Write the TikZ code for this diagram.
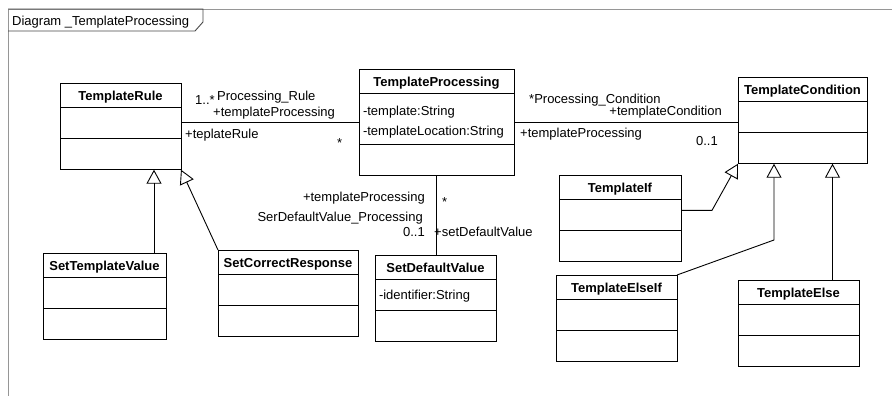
\documentclass[tikz,border=0pt]{standalone}
\usepackage{fontspec}
\setmainfont{Liberation Sans}
\usetikzlibrary{shapes.multipart, arrows.meta}

\definecolor{framegray}{RGB}{150,150,150}
\definecolor{tabgray}{RGB}{70,70,70}

\tikzset{
  umlclass/.style={draw, rectangle split, rectangle split parts=3, anchor=north west,
    text width=#1, inner xsep=4pt, inner ysep=0pt, outer sep=0pt, line width=0.9pt,
    font=\fontsize{13}{20}\selectfont},
  role/.style={font=\fontsize{13}{15}\selectfont, inner sep=0pt},
  assoc/.style={line width=0.9pt},
  inherit/.style={line width=0.9pt, -{Triangle[open, length=14pt, width=15pt]}},
}
\newcommand{\classhead}[1]{\makebox[\linewidth]{\rule[-7pt]{0pt}{24pt}\textbf{#1}}}
\newcommand{\blankpart}{\rule{0pt}{30pt}}

\begin{document}
\begin{tikzpicture}[x=1pt, y=-1pt]
    \useasboundingbox (0,0) rectangle (892,396);

    % frame and its name tab
    \draw[framegray, line width=0.9pt] (8,396) -- (8,9) -- (892,9);
    \draw[tabgray, line width=0.9pt] (8,9) -- (203,9) -- (203,22) -- (195,31) -- (8,31);
    \node[role, anchor=base west] (diagname) at (12,26) {Diagram \_TemplateProcessing};

    % classes
    \node[umlclass=113pt] (rule) at (60,83)
        {\classhead{TemplateRule}\nodepart{two}\blankpart\nodepart{three}\blankpart};
    \node[umlclass=147pt] (proc) at (359,69)
        {\classhead{TemplateProcessing}
         \nodepart{two}\rule{0pt}{21pt}-template:String\\-templateLocation:String\rule[-9pt]{0pt}{9pt}
         \nodepart{three}\blankpart};
    \node[umlclass=121pt] (cond) at (738,77)
        {\classhead{TemplateCondition}\nodepart{two}\blankpart\nodepart{three}\blankpart};
    \node[umlclass=115pt] (stv) at (43,253)
        {\classhead{SetTemplateValue}\nodepart{two}\blankpart\nodepart{three}\blankpart};
    \node[umlclass=132pt] (scr) at (218,250)
        {\classhead{SetCorrectResponse}\nodepart{two}\blankpart\nodepart{three}\blankpart};
    \node[umlclass=113pt] (sdv) at (375,255)
        {\classhead{SetDefaultValue}
         \nodepart{two}\rule[-11pt]{0pt}{30pt}-identifier:String
         \nodepart{three}\blankpart};
    \node[umlclass=114pt] (tif) at (559,175)
        {\classhead{TemplateIf}\nodepart{two}\blankpart\nodepart{three}\blankpart};
    \node[umlclass=113pt] (teif) at (556,275)
        {\classhead{TemplateElseIf}\nodepart{two}\blankpart\nodepart{three}\blankpart};
    \node[umlclass=113pt] (tels) at (738,280)
        {\classhead{TemplateElse}\nodepart{two}\blankpart\nodepart{three}\blankpart};

    % associations
    \draw[assoc] (proc.west -| rule.east) -- (proc.west);
    \node[role, anchor=base west] (rulemult) at (195,104) {1..*};
    \node[role, anchor=base west] (rulename) at (217,100) {Processing\_Rule};
    \node[role, anchor=base west] (ruleproc) at (213,116) {+templateProcessing};
    \node[role, anchor=base west] (rulerole) at (185,139) {+teplateRule};
    \node[role, anchor=base west] (ruleprocmult) at (337,147) {*};

    \draw[assoc] (proc.east) -- (proc.east -| cond.west);
    \node[role, anchor=base west] (condname) at (529,103) {*Processing\_Condition};
    \node[role, anchor=base east] (condrole) at (722,115) {+templateCondition};
    \node[role, anchor=base west] (condproc) at (520,137) {+templateProcessing};
    \node[role, anchor=base east] (condmult) at (718,145) {0..1};

    \draw[assoc] (proc.south) -- (proc.south |- sdv.north);
    \node[role, anchor=base east] (sdvproc) at (425,201) {+templateProcessing};
    \node[role, anchor=base east] (sdvname) at (423,221) {SerDefaultValue\_Processing};
    \node[role, anchor=base east] (sdvmult) at (425,236) {0..1};
    \node[role, anchor=base west] (sdvprocmult) at (442,206) {*};
    \node[role, anchor=base west] (sdvrole) at (434,236) {+setDefaultValue};

    % generalizations
    \coordinate (stvtop) at ([xshift=-12pt]stv.north east);
    \draw[inherit] (stvtop) -- (stvtop |- rule.south);
    \draw[inherit] (scr.north west) -- (rule.south east);
    \draw[inherit] ([yshift=8pt]tif.east) -- ++(31,0) -- (cond.south west);
    \coordinate (elifbend) at (774,240);
    \draw[inherit] (teif.north east) -- (elifbend) -- (elifbend |- cond.south);
    \coordinate (elsetop) at ([xshift=34pt]tels.north);
    \draw[inherit] (elsetop) -- (elsetop |- cond.south);
\end{tikzpicture}
\end{document}
